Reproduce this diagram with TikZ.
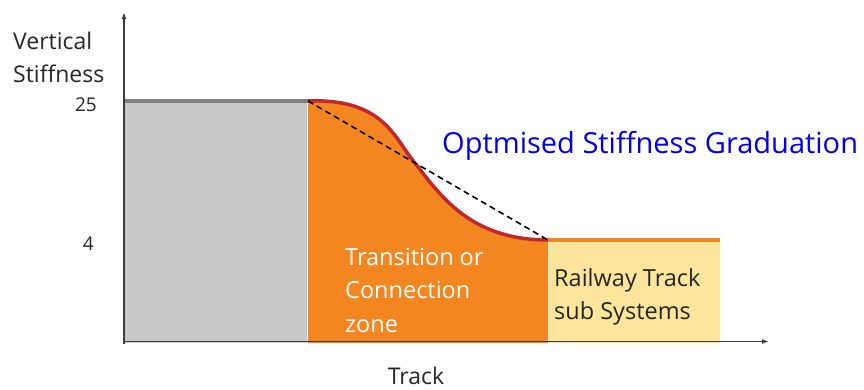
\documentclass[tikz,border=0pt]{standalone}
\usepackage{fontspec}
\setmainfont{Open Sans}
\usetikzlibrary{arrows.meta}
\definecolor{zgrey}{RGB}{200,200,200}
\definecolor{zorange}{RGB}{243,134,33}
\definecolor{zyellow}{RGB}{253,229,155}
\definecolor{zred}{RGB}{193,39,45}
\definecolor{zline}{RGB}{128,128,128}
\definecolor{zaxis}{RGB}{60,60,60}
\definecolor{zblue}{RGB}{0,0,235}
\tikzset{
  axisline/.style={draw=zaxis, line width=1.6pt, -{Latex[length=7pt,width=5pt]}},
  lbl/.style={inner sep=0pt, text=black!85, align=left},
  zonelbl/.style={inner sep=0pt, font=\fontsize{23.5}{33.5}\selectfont, align=left, anchor=north west},
}
\begin{document}
\begin{tikzpicture}[x=1pt,y=-1pt]
\useasboundingbox (0,0) rectangle (864,389);
% regions
\fill[zgrey] (124,101) rectangle (307,343);
\fill[zorange] (308,101) .. controls (385,98) and (395,140) .. (415,163)
   .. controls (440,195) and (470,240) .. (548,240) -- (548,343) -- (308,343) -- cycle;
\fill[zyellow] (549,240) rectangle (720,343);
\draw[white, line width=1.5pt] (307.5,101) -- (307.5,343);
% top lines
\draw[zline, line width=3.5pt] (124,101) -- (308,101);
\draw[zorange, line width=4pt] (546,240) -- (720,240);
\draw[zred, line width=3.5pt] (308,101) .. controls (385,98) and (395,140) .. (415,163)
   .. controls (440,195) and (470,240) .. (548,240);
\coordinate (s) at (308,101);
\coordinate (e) at (548,240);
\draw[black, line width=1.6pt, dash pattern=on 6pt off 4pt] (s) -- (e);
% axes
\coordinate (ytop) at (124,12);
\coordinate (xend) at (769,341.5);
\draw[axisline] (124,344) -- (ytop);
\draw[axisline] (123.2,341.5) -- (xend);
% labels
\node[lbl, anchor=north west, font=\fontsize{23}{33}\selectfont] (vs) at (13,32) {Vertical\\Stiffness};
\node[lbl, anchor=east, font=\fontsize{19}{24}\selectfont] (t25) at (97,105) {25};
\node[lbl, anchor=east, font=\fontsize{19}{24}\selectfont] (t4) at (94,244) {4};
\node[lbl, anchor=base, font=\fontsize{23}{28}\selectfont] (track) at (416,384) {Track};
\node[inner sep=0pt, font=\fontsize{29}{34}\selectfont, text=zblue, anchor=base west] (opt) at (442,153) {Optmised Stiffness Graduation};
\node[zonelbl, text=white] (tz) at (345,248) {Transition or\\Connection\\zone};
\node[zonelbl, text=black!85] (rt) at (554,268) {Railway Track\\sub Systems};
\end{tikzpicture}
\end{document}
